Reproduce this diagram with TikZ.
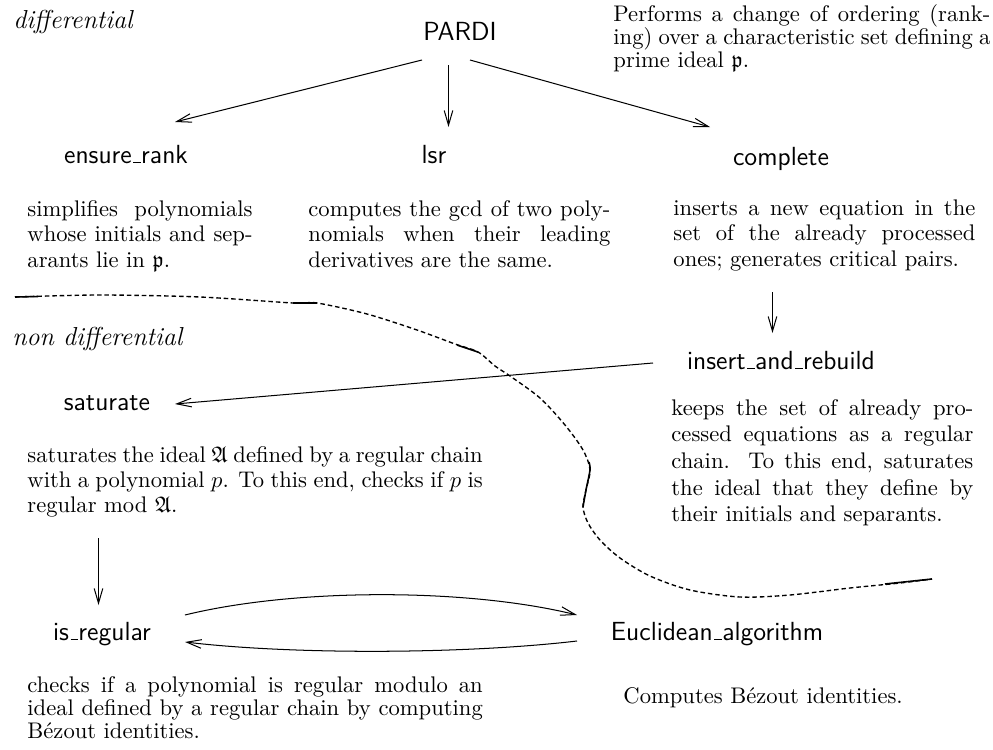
\documentclass[tikz,border=0pt]{standalone}
\usepackage{amssymb}
\usetikzlibrary{arrows.meta,calc}
\newcommand\usc{\leavevmode\kern.06em\vbox{\hrule width.3em}}
% justified line, last line, text block
\newcommand\jl[1]{\hbox to\hsize{#1}}
\newcommand\lastl[1]{\hbox{#1}}
\newcommand\blk[3]{\vtop{\hsize=#1\baselineskip=#2\lineskiplimit=-20pt\relax #3}}
\begin{document}
\begin{tikzpicture}[x=0.4425pt,y=-0.4425pt,
  lbl/.style={inner sep=0pt, anchor=base, font=\fontsize{11.6}{14}\sffamily},
  secname/.style={inner sep=0pt, anchor=base west, font=\fontsize{11.5}{14}\itshape},
  txt/.style={inner sep=0pt, anchor=base west, font=\fontsize{10}{12}\selectfont},
  arr/.style={line width=0.45pt, -{Straight Barb[length=6.5pt,width=3.8pt]}},
  sepline/.style={line width=0.6pt, dash pattern=on 2pt off 1.3pt},
  sepsolid/.style={line width=0.7pt}]
\useasboundingbox (0,0) rectangle (993,750);

% section captions
\node[secname] (dif) at (13,28) {differential};
\node[secname] (ndif) at (12,345) {non differential};

% labels
\node[lbl] (pardi) at (460,40) {PARDI};
\node[lbl] (ensure) at (126,163) {ensure\usc rank};
\node[lbl] (lsr) at (434,163) {lsr};
\node[lbl] (complete) at (781,165) {complete};
\node[lbl] (insert) at (781,369) {insert\usc and\usc rebuild};
\node[lbl] (saturate) at (107,410) {saturate};
\node[lbl] (isreg) at (102,640) {is\usc regular};
\node[lbl] (eucl) at (717,640) {Euclidean\usc algorithm};

% descriptions
\node[txt] (tpardi) at (613,21) {\blk{166.8pt}{10.2pt}{%
  \jl{Performs a change of ordering (rank-}%
  \jl{ing) over a characteristic set defining a}%
  \lastl{prime ideal $\mathfrak{p}$.}}};
\node[txt] (tensure) at (27,216) {\blk{99.6pt}{11.4pt}{%
  \jl{simplifies polynomials}%
  \jl{whose initials and sep-}%
  \lastl{arants lie in $\mathfrak{p}$.}}};
\node[txt] (tlsr) at (308,216) {\blk{133.6pt}{11.4pt}{%
  \jl{computes the gcd of two poly-}%
  \jl{nomials when their leading}%
  \lastl{derivatives are the same.}}};
\node[txt] (tcomplete) at (673,215) {\blk{133.6pt}{11.4pt}{%
  \jl{inserts a new equation in the}%
  \jl{set of the already processed}%
  \lastl{ones; generates critical pairs.}}};
\node[txt] (tinsert) at (671,415) {\blk{133.6pt}{11.8pt}{%
  \jl{keeps the set of already pro-}%
  \jl{cessed equations as a regular}%
  \jl{chain. To this end, saturates}%
  \jl{the ideal that they define by}%
  \lastl{their initials and separants.}}};
\node[txt] (tsaturate) at (27,462) {\blk{201.5pt}{11.1pt}{%
  \jl{saturates the ideal $\mathfrak{A}$ defined by a regular chain}%
  \jl{with a polynomial $p$. To this end, checks if $p$ is}%
  \lastl{regular mod $\mathfrak{A}$.}}};
\node[txt] (tisreg) at (27,692) {\blk{201.5pt}{10.2pt}{%
  \jl{checks if a polynomial is regular modulo an}%
  \jl{ideal defined by a regular chain by computing}%
  \lastl{Bézout identities.}}};
\node[txt] (teucl) at (623,703) {Computes Bézout identities.};

% connectors
\draw[arr] ($(pardi.base)+(-38,20)$) -- ($(ensure.base)+(49,-41)$);
\draw[arr] ($(pardi.base)+(-11.5,25)$) -- ($(lsr.base)+(14.5,-36)$);
\draw[arr] ($(pardi.base)+(10,20)$) -- ($(complete.base)+(-71,-38)$);
\draw[arr] ($(complete.base)+(-8.5,127)$) -- ($(insert.base)+(-8.5,-36)$);
\draw[arr] ($(insert.base)+(-128,-6)$) -- ($(saturate.base)+(68,-6)$);
\draw[arr] ($(saturate.base)+(-8.5,128)$) -- ($(isreg.base)+(-3.5,-35)$);
\draw[arr] ($(isreg.base)+(83,-25)$) .. controls +(110,-27) and +(-110,-27) .. ($(eucl.base)+(-140,-25)$);
\draw[arr] ($(eucl.base)+(-140,1)$) .. controls +(-110,13) and +(110,13) .. ($(isreg.base)+(83,2)$);

% separating curve
\draw[sepline] plot[smooth, tension=0.5] coordinates {(15,297) (100,295) (200,297) (293,303) (317,303) (367,314) (417,330) (455,344) (478,352) (495,366) (510,376) (540,398) (565,425) (583,450) (590,470) (586,490) (583,507) (588,523) (600,540) (620,558) (650,576) (690,590) (740,597) (790,595) (850,588) (900,583) (932,579)};
\draw[sepsolid] (15,297) -- (38,296.5);
\draw[sepsolid] (293,303) -- (317,303);
\draw[sepsolid] (457,345) -- (478,352);
\draw[sepsolid] plot[smooth, tension=0.5] coordinates {(589,462) (590,470) (586,490) (583,507)};
\draw[sepsolid] (885,584) -- (932,579);
\end{tikzpicture}
\end{document}
